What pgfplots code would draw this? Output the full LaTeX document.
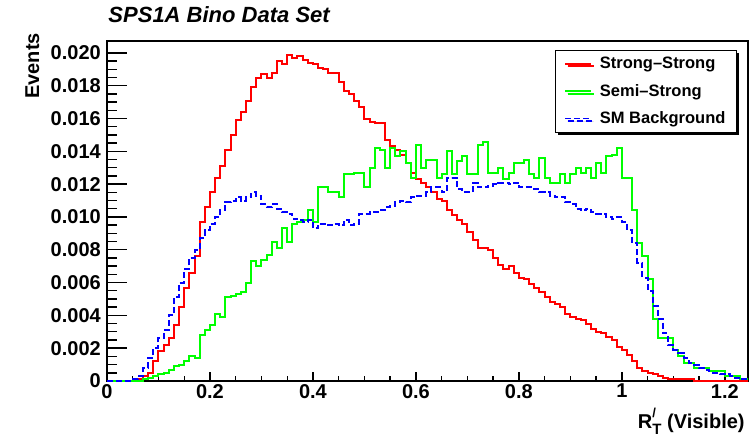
\documentclass[border=0pt]{standalone}
\usepackage{fontspec}
\setmainfont{Liberation Sans}
\usepackage{pgfplots}
\pgfplotsset{compat=1.18}
\usepackage{pgfplotstable}
\usetikzlibrary{shadows,calc}

\pgfplotstableread{
x y
0.00 0
0.06 0.0001
0.07 0.0003
0.08 0.0005
0.09 0.0012
0.10 0.0018
0.11 0.0022
0.12 0.0026
0.13 0.0034
0.14 0.0045
0.15 0.0057
0.16 0.0066
0.17 0.0076
0.18 0.0097
0.19 0.0106
0.20 0.0115
0.21 0.0124
0.22 0.0131
0.23 0.0141
0.24 0.0150
0.25 0.0159
0.26 0.0164
0.27 0.0171
0.28 0.0179
0.29 0.0185
0.30 0.0187
0.31 0.0185
0.32 0.0188
0.33 0.0195
0.34 0.0193
0.35 0.0199
0.36 0.0197
0.37 0.0198
0.38 0.0196
0.39 0.0194
0.40 0.0193
0.41 0.0191
0.42 0.0190
0.43 0.0188
0.44 0.0188
0.45 0.0182
0.46 0.0177
0.47 0.0175
0.48 0.0171
0.49 0.0167
0.50 0.0160
0.51 0.0158
0.52 0.0157
0.53 0.0157
0.54 0.0147
0.55 0.0143
0.56 0.0141
0.57 0.0138
0.58 0.0133
0.59 0.0127
0.60 0.0123
0.61 0.0121
0.62 0.0118
0.63 0.0115
0.64 0.0111
0.65 0.0110
0.66 0.0104
0.67 0.0101
0.68 0.0098
0.69 0.0096
0.70 0.0091
0.71 0.0086
0.72 0.0081
0.73 0.0081
0.74 0.0080
0.75 0.0075
0.76 0.0071
0.77 0.0068
0.78 0.0070
0.79 0.0066
0.80 0.0063
0.81 0.0062
0.82 0.0059
0.83 0.0057
0.84 0.0054
0.85 0.0051
0.86 0.0048
0.87 0.0047
0.88 0.0045
0.89 0.0041
0.90 0.0039
0.91 0.0038
0.92 0.0037
0.93 0.0035
0.94 0.0032
0.95 0.0030
0.96 0.0029
0.97 0.0027
0.98 0.0025
0.99 0.0021
1.00 0.0019
1.01 0.0016
1.02 0.0012
1.03 0.0008
1.04 0.0006
1.05 0.0005
1.06 0.0004
1.07 0.0003
1.08 0.0002
1.09 0.0001
1.10 0.0001
1.11 0.0001
1.12 0.0001
1.13 0.0001
1.14 0
1.25 0
}\redtab

\pgfplotstableread{
x y
0.00 0
0.07 0.0001
0.08 0.0002
0.09 0.0003
0.10 0.0004
0.11 0.0005
0.12 0.0007
0.13 0.0009
0.14 0.0010
0.15 0.0012
0.16 0.0015
0.17 0.0014
0.18 0.0028
0.19 0.0031
0.20 0.0034
0.21 0.0041
0.22 0.0039
0.23 0.0051
0.24 0.0052
0.25 0.0053
0.26 0.0054
0.27 0.0060
0.28 0.0073
0.29 0.0070
0.30 0.0074
0.31 0.0077
0.32 0.0085
0.33 0.0081
0.34 0.0093
0.35 0.0085
0.36 0.0096
0.37 0.0097
0.38 0.0098
0.39 0.0104
0.40 0.0097
0.41 0.0118
0.42 0.0118
0.43 0.0115
0.44 0.0115
0.45 0.0112
0.46 0.0126
0.47 0.0126
0.48 0.0127
0.49 0.0127
0.50 0.0118
0.51 0.0130
0.52 0.0142
0.53 0.0141
0.54 0.0130
0.55 0.0142
0.56 0.0137
0.57 0.0140
0.58 0.0133
0.59 0.0124
0.60 0.0144
0.61 0.0130
0.62 0.0135
0.63 0.0135
0.64 0.0124
0.65 0.0126
0.66 0.0140
0.67 0.0126
0.68 0.0134
0.69 0.0137
0.70 0.0126
0.71 0.0126
0.72 0.0144
0.73 0.0146
0.74 0.0127
0.75 0.0127
0.76 0.0130
0.77 0.0123
0.78 0.0127
0.79 0.0133
0.80 0.0133
0.81 0.0135
0.82 0.0126
0.83 0.0124
0.84 0.0136
0.85 0.0124
0.86 0.0121
0.87 0.0121
0.88 0.0126
0.89 0.0121
0.90 0.0126
0.91 0.0130
0.92 0.0127
0.93 0.0130
0.94 0.0124
0.95 0.0133
0.96 0.0127
0.97 0.0137
0.98 0.0138
0.99 0.0142
1.00 0.0124
1.01 0.0124
1.02 0.0104
1.03 0.0084
1.04 0.0076
1.05 0.0062
1.06 0.0038
1.07 0.0026
1.08 0.0026
1.09 0.0026
1.10 0.0019
1.11 0.0015
1.12 0.0011
1.13 0.0011
1.14 0.0008
1.15 0.0008
1.16 0.0008
1.17 0.0006
1.18 0.0006
1.19 0.0006
1.20 0.0003
1.21 0.0003
1.22 0.0003
1.23 0.0001
1.24 0.0001
1.25 0.0001
}\greentab

\pgfplotstableread{
x y
0.00 0
0.05 0.0001
0.06 0.0003
0.07 0.0008
0.08 0.0014
0.09 0.0020
0.10 0.0026
0.11 0.0031
0.12 0.0040
0.13 0.0051
0.14 0.0060
0.15 0.0068
0.16 0.0075
0.17 0.0080
0.18 0.0087
0.19 0.0092
0.20 0.0096
0.21 0.0100
0.22 0.0104
0.23 0.0109
0.24 0.0110
0.25 0.0112
0.26 0.0110
0.27 0.0112
0.28 0.0115
0.29 0.0113
0.30 0.0108
0.31 0.0106
0.32 0.0108
0.33 0.0105
0.34 0.0103
0.35 0.0102
0.36 0.0099
0.37 0.0098
0.38 0.0097
0.39 0.0098
0.40 0.0093
0.41 0.0096
0.42 0.0096
0.43 0.0095
0.44 0.0096
0.45 0.0095
0.46 0.0098
0.47 0.0095
0.48 0.0096
0.49 0.0102
0.50 0.0102
0.51 0.0103
0.52 0.0103
0.53 0.0104
0.54 0.0106
0.55 0.0107
0.56 0.0109
0.57 0.0110
0.58 0.0109
0.59 0.0112
0.60 0.0113
0.61 0.0113
0.62 0.0115
0.63 0.0118
0.64 0.0118
0.65 0.0115
0.66 0.0124
0.67 0.0124
0.68 0.0117
0.69 0.0115
0.70 0.0115
0.71 0.0121
0.72 0.0118
0.73 0.0118
0.74 0.0119
0.75 0.0120
0.76 0.0121
0.77 0.0121
0.78 0.0120
0.79 0.0121
0.80 0.0118
0.81 0.0118
0.82 0.0118
0.83 0.0117
0.84 0.0115
0.85 0.0115
0.86 0.0113
0.87 0.0112
0.88 0.0112
0.89 0.0109
0.90 0.0108
0.91 0.0105
0.92 0.0104
0.93 0.0105
0.94 0.0103
0.95 0.0102
0.96 0.0102
0.97 0.0100
0.98 0.0099
0.99 0.0100
1.00 0.0097
1.01 0.0092
1.02 0.0084
1.03 0.0072
1.04 0.0063
1.05 0.0055
1.06 0.0046
1.07 0.0038
1.08 0.0029
1.09 0.0022
1.10 0.0019
1.11 0.0017
1.12 0.0014
1.13 0.0011
1.14 0.0010
1.15 0.0008
1.16 0.0007
1.17 0.0005
1.18 0.0005
1.19 0.0004
1.20 0.0004
1.21 0.0003
1.22 0.0002
1.23 0.0001
1.24 0.0001
1.25 0.0001
}\bluetab

\begin{document}
\begin{tikzpicture}
\begin{axis}[
  at={(0pt,0pt)}, anchor=south west,
  width=641pt, height=340pt, scale only axis,
  xmin=0, xmax=1.245, ymin=0, ymax=0.02073,
  axis line style={line width=1.6pt},
  tick align=inside, tick pos=left,
  xtick={0,0.2,0.4,0.6,0.8,1,1.2},
  xticklabels={0,0.2,0.4,0.6,0.8,1,1.2},
  minor x tick num=3,
  ytick={0,0.002,0.004,0.006,0.008,0.010,0.012,0.014,0.016,0.018,0.020},
  yticklabels={0,0.002,0.004,0.006,0.008,0.010,0.012,0.014,0.016,0.018,0.020},
  minor y tick num=3,
  scaled ticks=false,
  /pgf/number format/assume math mode=true,
  ticklabel style={font=\fontsize{20}{20}\selectfont\bfseries},
  xticklabel style={inner sep=0pt, anchor=north, yshift=-3pt},
  yticklabel style={inner sep=0pt, anchor=east, xshift=-6pt},
  major tick style={line width=1.4pt, black},
  minor tick style={line width=1.4pt, black},
  x tick style={/pgfplots/major tick length=9pt, /pgfplots/minor tick length=5pt},
  y tick style={/pgfplots/major tick length=20pt, /pgfplots/minor tick length=10pt},
  title={SPS1A Bino Data Set},
  title style={at={(rel axis cs:0.002,1)}, anchor=base west, yshift=12pt, inner sep=0pt,
    font=\fontsize{22}{22}\selectfont\bfseries\itshape},
  xlabel={R\rlap{\raisebox{0.55em}{\fontsize{13}{13}\selectfont /}}\raisebox{-0.3em}{\fontsize{15}{15}\selectfont T} (Visible)},
  xlabel style={at={(rel axis cs:0.995,0)}, anchor=base east, yshift=-47pt, inner sep=0pt,
    font=\fontsize{20}{20}\selectfont\bfseries},
  ylabel={Events},
  ylabel style={at={(rel axis cs:-0.106,1.0235)}, anchor=base east, inner sep=0pt, rotate=0,
    font=\fontsize{20}{20}\selectfont\bfseries},
  legend style={at={(rel axis cs:0.983,0.974)}, anchor=north east,
    draw=black, line width=1.2pt, fill=white,
    font=\fontsize{16.5}{17}\selectfont\bfseries,
    inner xsep=9pt, inner ysep=5pt, row sep=10pt,
    drop shadow={shadow xshift=2.5pt, shadow yshift=-2.5pt, fill=black, opacity=1},
    /tikz/every odd column/.append style={column sep=6pt}},
  legend cell align=left,
  legend image code/.code={\draw[#1, line width=1.5pt] (0pt,0pt) -- (26pt,0pt);},
]
\addplot[const plot, red, line width=2pt] table[x=x,y=y] {\redtab};
\addlegendentry{Strong--Strong}
\addplot[const plot, color={rgb,255:red,0;green,255;blue,0}, line width=2pt] table[x=x,y=y] {\greentab};
\addlegendentry{Semi--Strong}
\addplot[const plot, blue, line width=2pt, dash pattern=on 6pt off 3pt] table[x=x,y=y] {\bluetab};
\addlegendentry{SM Background}
\end{axis}
\pgfresetboundingbox
\useasboundingbox (-107pt,-61pt) rectangle (646pt,381pt);
\end{tikzpicture}
\end{document}
